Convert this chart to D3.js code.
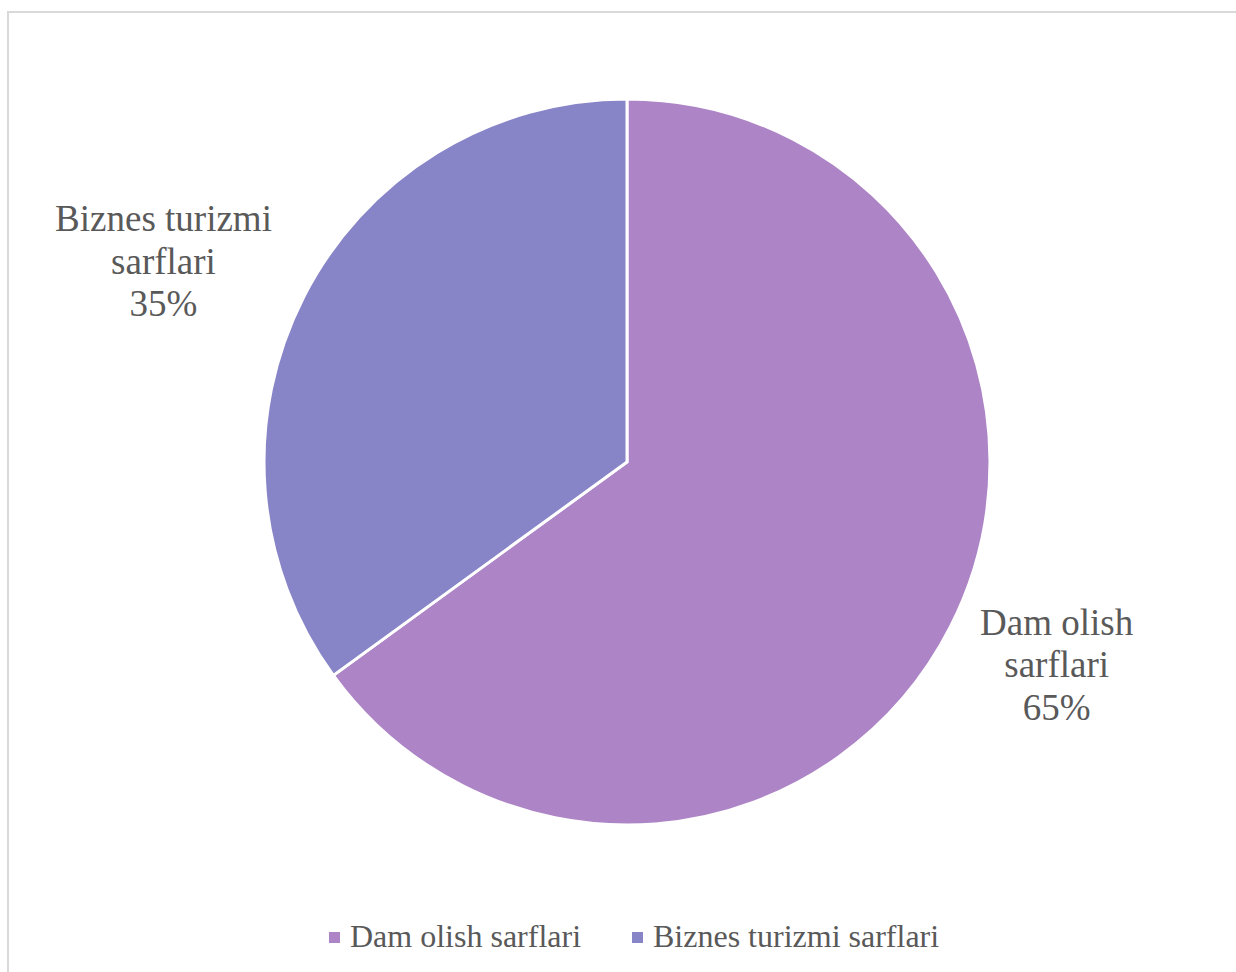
<!DOCTYPE html>
<html>
<head>
<meta charset="utf-8">
<script src="https://cdn.jsdelivr.net/npm/d3@7"></script>
<style>
  body { margin: 0; background: #fff; }
  svg { display: block; font-family: "Liberation Serif", "DejaVu Serif", serif; }
</style>
</head>
<body>
<svg width="1236" height="972"></svg>
<script>
// chart data
var categories = ['Dam olish sarflari', 'Biznes turizmi sarflari']
var labelLines = [['Dam olish', 'sarflari'], ['Biznes turizmi', 'sarflari']]
var values = [65, 35]
var colors = ['#AD85C6', '#8784C7']

var svg = d3.select('svg')

// outer chart frame
svg.append('rect')
    .attr('x', 8)
    .attr('y', 12)
    .attr('width', 1240)
    .attr('height', 980)
    .attr('fill', 'none')
    .attr('stroke', '#d9d9d9')
    .attr('stroke-width', 2)

var cx = 627, cy = 462, radius = 363

var pie = d3.pie()
    .sort(null)
    .value(d => d)

var arcs = pie(values)

var arc = d3.arc()
    .innerRadius(0)
    .outerRadius(radius)

var g = svg.append('g')
    .attr('transform', 'translate(' + cx + ',' + cy + ')')

g.selectAll('path')
    .data(arcs)
    .enter()
    .append('path')
    .attr('d', arc)
    .attr('fill', (d, i) => colors[i])
    .attr('stroke', '#fff')
    .attr('stroke-width', 3)

// data labels outside the pie
var labelArc = [
    d3.arc().innerRadius(480).outerRadius(480),
    d3.arc().innerRadius(500).outerRadius(500)
]
var labelShift = [[2, -45], [-18, -4]]

arcs.forEach(function (d, i) {
    var c = labelArc[i].centroid(d)
    var t = g.append('text')
        .attr('text-anchor', 'middle')
        .attr('fill', '#595959')
        .style('font-size', '37px')
    var lines = labelLines[i].concat([values[i] + '%'])
    lines.forEach(function (s, k) {
        t.append('tspan')
            .attr('x', c[0] + labelShift[i][0])
            .attr('y', c[1] + labelShift[i][1] + k * 42.5)
            .text(s)
    })
})

// legend
var legendX = [329, 632]
var legend = svg.append('g')
    .selectAll('g')
    .data(categories)
    .enter()
    .append('g')
    .attr('transform', (d, i) => 'translate(' + legendX[i] + ',932)')

legend.append('rect')
    .attr('width', 11)
    .attr('height', 11)
    .attr('fill', (d, i) => colors[i])

legend.append('text')
    .attr('x', 21)
    .attr('y', 15)
    .attr('fill', '#595959')
    .style('font-size', '32px')
    .text(d => d)
</script>
</body>
</html>
